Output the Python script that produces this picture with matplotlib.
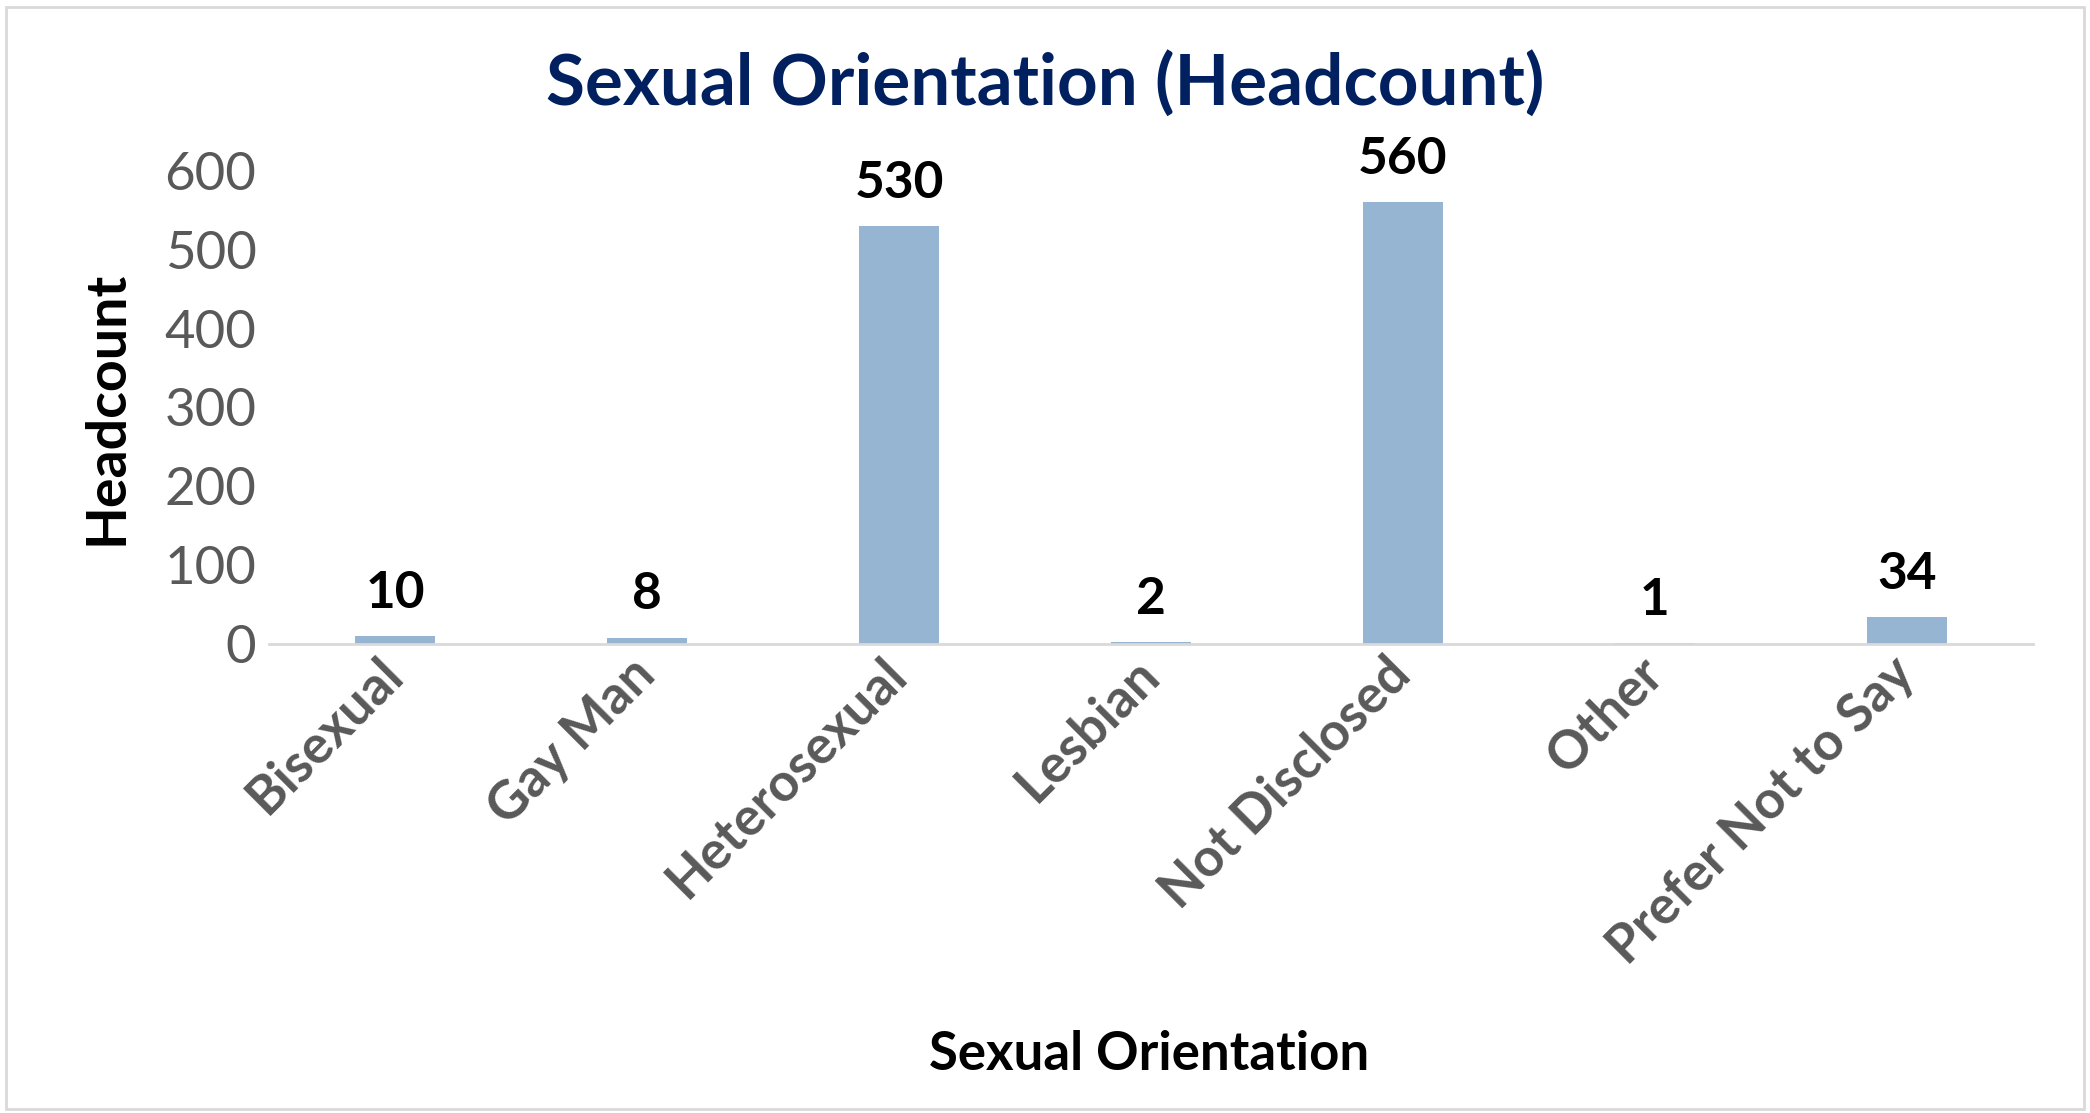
import matplotlib
matplotlib.use("Agg")
import matplotlib.pyplot as plt
from matplotlib.patches import Rectangle

# chart data
categories = ["Bisexual", "Gay Man", "Heterosexual", "Lesbian",
              "Not Disclosed", "Other", "Prefer Not to Say"]
headcount = [10, 8, 530, 2, 560, 1, 34]
y_ticks = [0, 100, 200, 300, 400, 500, 600]

plt.rcParams['font.family'] = ['Lato', 'DejaVu Sans']

fig = plt.figure(figsize=(20.9, 11.13), dpi=100)
ax = fig.add_axes([0.1287, 0.4214, 0.844, 0.425])

x = range(len(categories))
ax.bar(x, headcount, width=0.32, color="#95b5d3", zorder=2)

# value labels above bars
for xi, v in zip(x, headcount):
    ax.annotate(str(v), (xi, v), xytext=(0, 14), textcoords="offset points",
                ha="center", va="bottom", fontsize=37, fontweight="bold",
                color="black", clip_on=False)

ax.set_xlim(-0.5, len(categories) - 0.5)
ax.set_ylim(0, 600)
ax.set_yticks(y_ticks)
ax.tick_params(axis="y", length=0, labelsize=38, labelcolor="#595959", pad=9)
ax.tick_params(axis="x", length=0, pad=16)
ax.set_xticks(list(x))
ax.set_xticklabels(categories, rotation=45, ha="right", va="center",
                   rotation_mode="anchor", fontsize=38, fontweight="bold",
                   color="#595959")

for s in ["top", "right", "left"]:
    ax.spines[s].set_visible(False)
ax.spines["bottom"].set_color("#d9d9d9")
ax.spines["bottom"].set_linewidth(2)

ax.set_ylabel("Headcount", fontsize=40, fontweight="bold", color="black", labelpad=24)

fig.text(0.5, 0.925, "Sexual Orientation (Headcount)", ha="center", va="center",
         fontsize=51, fontweight="bold", color="#002060")
fig.text(0.55, 0.053, "Sexual Orientation", ha="center", va="center",
         fontsize=38, fontweight="bold", color="black")

# outer chart border
fig.patches.append(Rectangle((0.003, 0.004), 0.994, 0.99, transform=fig.transFigure,
                             fill=False, edgecolor="#d9d9d9", linewidth=2))

fig.savefig("out.png", dpi=100)
